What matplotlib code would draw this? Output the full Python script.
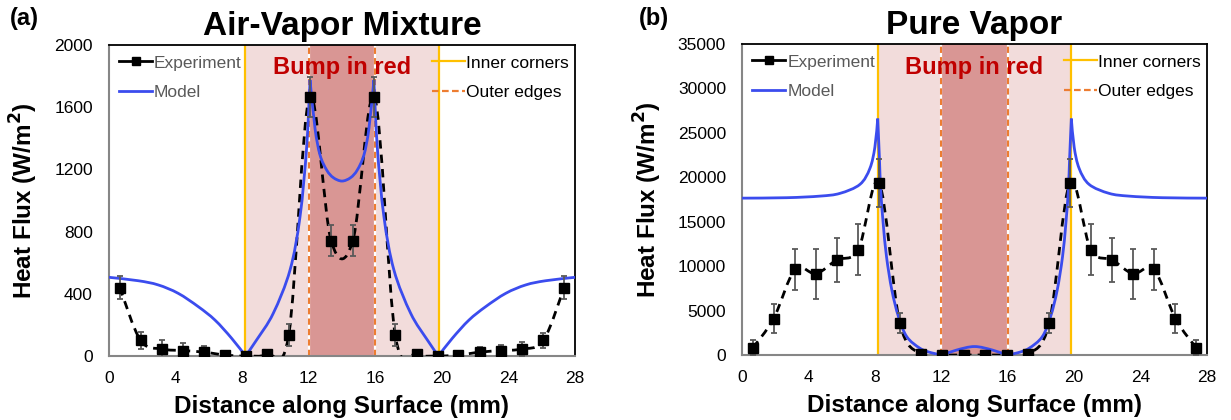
import numpy as np
import matplotlib
matplotlib.use("Agg")
import matplotlib.pyplot as plt
from matplotlib.path import Path
from matplotlib.patches import PathPatch
from matplotlib.lines import Line2D

plt.rcParams['font.family'] = ['Liberation Sans', 'DejaVu Sans']

# measured positions (mm)
exp_x = [0.65, 1.9, 3.2, 4.45, 5.7, 7.0, 8.25, 9.5, 10.8, 12.05, 13.35,
         14.65, 15.95, 17.2, 18.5, 19.75, 21.0, 22.3, 23.55, 24.8, 26.1, 27.35]

# (a) air-vapor mixture
air_exp = [440, 100, 45, 35, 25, 6, 0, 12, 135, 1665, 740,
           740, 1665, 135, 12, 0, 6, 25, 35, 45, 100, 440]
air_err = [75, 55, 60, 50, 40, 15, 10, 15, 70, 130, 100,
           100, 130, 70, 15, 10, 15, 35, 35, 45, 50, 75]
air_model_x = [0, 1.76, 2.96, 4.16, 5.37, 6.37, 7.37, 8.21, 8.87, 9.87, 10.88,
               11.48, 11.88, 12.08, 12.38, 12.68, 13.08, 13.48, 14.0, 14.52,
               14.92, 15.32, 15.62, 15.92, 16.12, 16.52, 17.12, 18.13, 19.13,
               19.79, 20.63, 21.63, 22.63, 23.84, 25.04, 26.24, 28.0]
air_model_y = [506, 484, 457, 403, 317, 231, 114, 0, 103, 274, 553,
               896, 1346, 1775, 1464, 1293, 1196, 1147, 1125, 1147,
               1196, 1293, 1464, 1775, 1346, 896, 553, 274, 103,
               0, 114, 231, 317, 403, 457, 484, 506]
air_cusps = [8.21, 12.08, 15.92, 19.79]

# (b) pure vapor
vap_exp = [800, 4100, 9650, 9150, 10700, 11850, 19400, 3600, 100, 0, 0,
           0, 0, 100, 3600, 19400, 11850, 10700, 9150, 9650, 4100, 800]
vap_err = [850, 1650, 2300, 2800, 2450, 2900, 2700, 1100, 150, 150, 150,
           150, 150, 150, 1100, 2700, 2900, 2450, 2800, 2300, 1650, 850]
vap_model_x = [0, 2.7, 4.7, 5.9, 7.1, 7.7, 8.0, 8.17, 8.27, 8.35, 8.5, 8.7,
               9.02, 9.42, 9.92, 10.72, 11.4, 12.05, 12.93, 14.0, 15.07,
               15.95, 16.6, 17.28, 18.08, 18.58, 18.98, 19.3, 19.5, 19.65,
               19.73, 19.83, 20.0, 20.3, 20.9, 22.1, 23.3, 25.3, 28.0]
vap_model_y = [17650, 17700, 17880, 18190, 19200, 21000, 23400, 26600, 22300,
               18560, 14800, 11060, 7310, 4310, 2060, 750, 250, 0, 560, 950,
               560, 0, 250, 750, 2060, 4310, 7310, 11060, 14800, 18560,
               22300, 26600, 23400, 21000, 19200, 18190, 17880, 17700, 17650]
vap_cusps = [8.17, 12.05, 15.95, 19.83]

inner_corners = [8.2, 19.8]
outer_edges = [12.0, 16.0]

BLUE = '#3B4CEE'
GREY = '#595959'


def smooth_path(xs, ys, breaks=()):
    # excel-style smoothed line, kept sharp at the break points
    pts = np.column_stack([xs, ys]).astype(float)
    cut = [0] + [i for i, x in enumerate(xs) if x in breaks] + [len(xs) - 1]
    verts = [pts[0]]
    codes = [Path.MOVETO]
    for a, b in zip(cut[:-1], cut[1:]):
        seg = pts[a:b + 1]
        n = len(seg)
        for i in range(n - 1):
            p0 = seg[max(i - 1, 0)]
            p1 = seg[i]
            p2 = seg[i + 1]
            p3 = seg[min(i + 2, n - 1)]
            verts += [p1 + (p2 - p0) / 6, p2 - (p3 - p1) / 6, p2]
            codes += [Path.CURVE4] * 3
    return Path(verts, codes)


def draw_panel(ax, exp_y, err, mx, my, cusps, ymax, ystep, title, bump_y):
    ax.axvspan(inner_corners[0], inner_corners[1], color='#F2DCDB', lw=0, zorder=0)
    ax.axvspan(outer_edges[0], outer_edges[1], color='#D99694', lw=0, zorder=0.5)
    for xc in inner_corners:
        ax.axvline(xc, color='#FFC000', lw=1.6, zorder=1)
    for xe in outer_edges:
        ax.axvline(xe, color='white', lw=1.6, zorder=1)
        ax.axvline(xe, color='#ED7D31', lw=1.5, ls=(0, (3, 2)), zorder=1.1)

    ax.add_patch(PathPatch(smooth_path(exp_x, exp_y), fill=False, ec='black',
                           lw=2.0, ls=(0, (3, 2.2)), zorder=3))
    ax.add_patch(PathPatch(smooth_path(mx, my, cusps), fill=False, ec=BLUE,
                           lw=2.0, zorder=4, joinstyle='miter'))
    ax.errorbar(exp_x, exp_y, yerr=err, fmt='none', ecolor=GREY, elinewidth=1.3,
                capsize=2.2, capthick=1.3, zorder=5)
    ax.plot(exp_x, exp_y, 's', color='black', ms=6.5, zorder=6)

    ax.set_xlim(0, 28)
    ax.set_ylim(0, ymax)
    ax.set_xticks(range(0, 29, 4))
    ax.set_yticks(np.arange(0, ymax + 1, ystep))
    ax.tick_params(length=0, labelsize=12.5)
    ax.tick_params(axis='x', pad=11)
    ax.tick_params(axis='y', pad=11.5)
    ax.set_xlabel('Distance along Surface (mm)', fontsize=17.5, fontweight='bold', labelpad=6)
    ax.set_ylabel('Heat Flux (W/m$^\\mathbf{2}$)', fontsize=17.5, fontweight='bold', labelpad=10)
    ax.set_title(title, fontsize=24, fontweight='bold', pad=7)
    for s in ['left', 'bottom']:
        ax.spines[s].set_color('#868686')
        ax.spines[s].set_linewidth(1.5)
    for s in ['top', 'right']:
        ax.spines[s].set_color('black')
        ax.spines[s].set_linewidth(1.3)

    ax.text(14, bump_y, 'Bump in red', color='#C00000', fontsize=17, fontweight='bold',
            ha='center', va='center', zorder=7)

    h1 = [Line2D([], [], color='black', marker='s', ms=6, lw=2),
          Line2D([], [], color=BLUE, lw=2)]
    leg1 = ax.legend(h1, ['Experiment', 'Model'], loc='upper left', frameon=False,
                     fontsize=12.5, handlelength=1.9, handletextpad=0.1,
                     labelspacing=0.8, borderaxespad=0.2, bbox_to_anchor=(0.0, 1.0))
    for t in leg1.get_texts():
        t.set_color(GREY)
    ax.add_artist(leg1)
    h2 = [Line2D([], [], color='#FFC000', lw=1.6),
          Line2D([], [], color='#ED7D31', lw=1.6, ls=(0, (3, 1.5)))]
    ax.legend(h2, ['Inner corners', 'Outer edges'], loc='upper right', frameon=False,
              fontsize=12.5, handlelength=1.9, handletextpad=0.1,
              labelspacing=0.8, borderaxespad=0.2, bbox_to_anchor=(1.01, 1.0))


fig = plt.figure(figsize=(12.31, 4.2), dpi=100)
ax1 = fig.add_axes([0.0885, 0.1524, 0.3786, 0.7405])
ax2 = fig.add_axes([0.6028, 0.1548, 0.3777, 0.7405])

draw_panel(ax1, air_exp, air_err, air_model_x, air_model_y, air_cusps, 2000, 400,
           'Air-Vapor Mixture', 1852)
draw_panel(ax2, vap_exp, vap_err, vap_model_x, vap_model_y, vap_cusps, 35000, 5000,
           'Pure Vapor', 32400)

fig.text(0.008, 0.955, '(a)', fontsize=17, fontweight='bold', va='center')
fig.text(0.519, 0.955, '(b)', fontsize=17, fontweight='bold', va='center')

fig.savefig('out.png', dpi=100)
